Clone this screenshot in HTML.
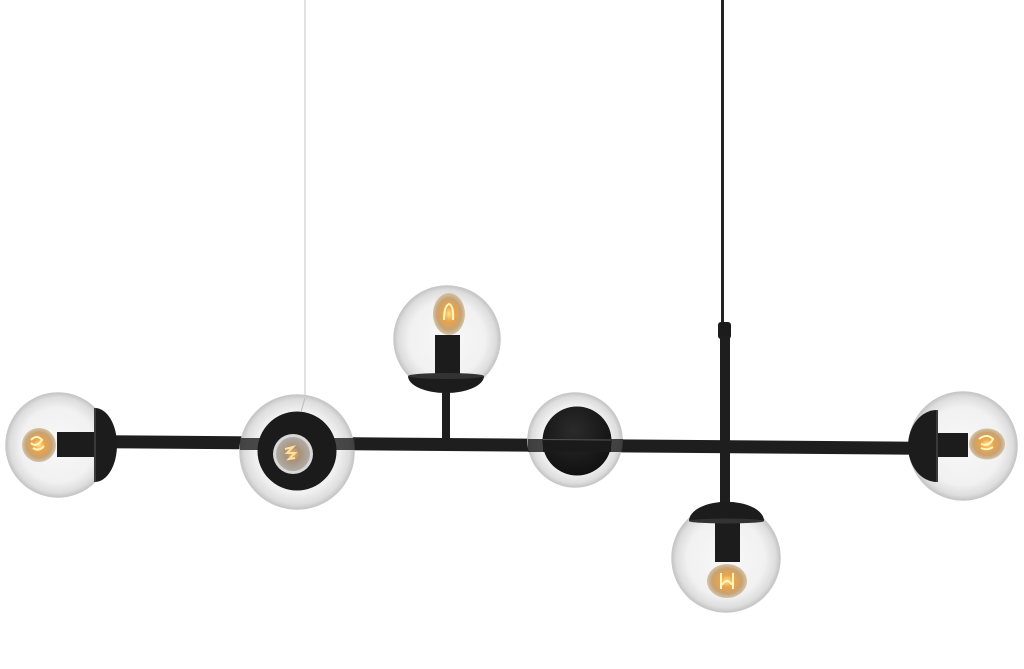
<!DOCTYPE html>
<html><head><meta charset="utf-8"><style>
html,body{margin:0;padding:0;background:#fff;}
svg{display:block;}
</style></head><body>
<svg width="1024" height="669" viewBox="0 0 1024 669" xmlns="http://www.w3.org/2000/svg">
<defs>
<radialGradient id="glass" cx="50%" cy="50%" r="50%">
<stop offset="0%" stop-color="#f8f8f8"/>
<stop offset="72%" stop-color="#f1f1f1"/>
<stop offset="92%" stop-color="#dddddd"/>
<stop offset="100%" stop-color="#c6c6c6"/>
</radialGradient>
<radialGradient id="bulb" cx="50%" cy="50%" r="50%">
<stop offset="0%" stop-color="#ffe08a"/>
<stop offset="35%" stop-color="#eaa548"/>
<stop offset="75%" stop-color="#c9a272"/>
<stop offset="100%" stop-color="#d2c3a8"/>
</radialGradient>
<radialGradient id="bulbg" cx="50%" cy="50%" r="50%">
<stop offset="0%" stop-color="#f2b256"/>
<stop offset="40%" stop-color="#a8927a"/>
<stop offset="100%" stop-color="#b0aca6"/>
</radialGradient>
<radialGradient id="disc" cx="45%" cy="35%" r="65%">
<stop offset="0%" stop-color="#2b2b2b"/>
<stop offset="100%" stop-color="#111"/>
</radialGradient>
</defs>

<!-- cables -->
<line x1="305" y1="0" x2="305" y2="398" stroke="#d8d8d8" stroke-width="1.5"/>
<line x1="722.5" y1="0" x2="722.5" y2="324" stroke="#222" stroke-width="3"/>

<!-- right rod with connector -->
<rect x="718" y="322" width="13" height="17" rx="3" fill="#1c1c1c"/>
<rect x="720" y="336" width="10" height="170" fill="#1e1e1e"/>

<!-- top stem -->
<rect x="442" y="388" width="8" height="54" fill="#1e1e1e"/>

<!-- main bar -->
<line x1="100" y1="441.7" x2="915" y2="448.2" stroke="#1e1e1e" stroke-width="13"/>

<!-- LEFT GLOBE -->
<circle cx="58" cy="445" r="52" fill="url(#glass)" stroke="#c8c8c8" stroke-width="1.5"/>
<ellipse cx="39" cy="445" rx="17" ry="17" fill="url(#bulb)"/>
<path d="M31 440 q6 -6 11 0 q-6 8 -11 3 M33 448 q6 4 11 -2" stroke="#fff6c0" stroke-width="2" fill="none"/>
<rect x="57" y="432" width="40" height="25" fill="#1c1c1c"/>
<path d="M95 408 A22 37 0 0 1 95 482 Z" fill="#1c1c1c"/>
<line x1="95" y1="408" x2="95" y2="482" stroke="#3a3a3a" stroke-width="2"/>

<!-- SECOND GLOBE (front) -->
<circle cx="297" cy="452" r="57" fill="url(#glass)" stroke="#c8c8c8" stroke-width="1.5"/>
<rect x="240" y="438" width="115" height="12" fill="#2a2a2a" opacity="0.85"/>
<circle cx="297" cy="451" r="39.5" fill="#1b1b1b"/>
<circle cx="293" cy="454" r="20" fill="#d8d8d8"/>
<circle cx="293" cy="454" r="17" fill="url(#bulbg)"/>
<path d="M285 449 l8 -2 l-6 6 l8 0 l-6 6 l6 -1" stroke="#ffe0a0" stroke-width="2" fill="none"/>
<line x1="305" y1="398" x2="301" y2="412" stroke="#bbb" stroke-width="1"/>

<!-- TOP GLOBE -->
<circle cx="447" cy="339" r="53" fill="url(#glass)" stroke="#c8c8c8" stroke-width="1.5"/>
<ellipse cx="449" cy="314" rx="16" ry="21" fill="url(#bulb)"/>
<path d="M444 320 q0 -14 5 -16 q5 2 4 16" stroke="#fff6c0" stroke-width="2" fill="none"/>
<rect x="435" y="335" width="25" height="40" fill="#1c1c1c"/>
<path d="M408 376 A38 17 0 0 0 484 376 Z" fill="#1c1c1c"/>
<ellipse cx="446" cy="376" rx="38" ry="3" fill="#333"/>

<!-- MIDDLE DISC GLOBE -->
<circle cx="575" cy="440" r="47" fill="url(#glass)" stroke="#c8c8c8" stroke-width="1.5"/>
<rect x="528" y="439" width="95" height="13" fill="#262626" opacity="0.85"/>
<circle cx="577" cy="441" r="34.5" fill="url(#disc)"/>
<rect x="543" y="439" width="68" height="13" fill="#1a1a1a"/>
<line x1="543" y1="439.5" x2="611" y2="440" stroke="#555" stroke-width="1"/>

<!-- BOTTOM GLOBE -->
<circle cx="726" cy="558" r="54" fill="url(#glass)" stroke="#c8c8c8" stroke-width="1.5"/>
<ellipse cx="727" cy="581" rx="20" ry="17" fill="url(#bulb)"/>
<path d="M721 573 l0 16 M733 573 l0 16 M722 585 q5 -8 10 0" stroke="#fff6c0" stroke-width="2" fill="none"/>
<rect x="715" y="519" width="25" height="43" fill="#1c1c1c"/>
<path d="M689 521 A37 19 0 0 1 764 521 Z" fill="#1c1c1c"/>
<ellipse cx="726.5" cy="521" rx="37.5" ry="2.5" fill="#333"/>

<!-- RIGHT GLOBE -->
<circle cx="963" cy="446" r="54" fill="url(#glass)" stroke="#c8c8c8" stroke-width="1.5"/>
<ellipse cx="987" cy="444" rx="18" ry="15.5" fill="url(#bulb)"/>
<path d="M979 439 q8 -6 14 0 q-4 8 -12 5 M981 448 q6 3 12 -1" stroke="#fff6c0" stroke-width="2" fill="none"/>
<rect x="935" y="433" width="33" height="24" fill="#1c1c1c"/>
<path d="M937 410 A29 36 0 0 0 937 482 Z" fill="#1c1c1c"/>
<line x1="937" y1="410" x2="937" y2="482" stroke="#3a3a3a" stroke-width="2"/>
</svg>
</body></html>
